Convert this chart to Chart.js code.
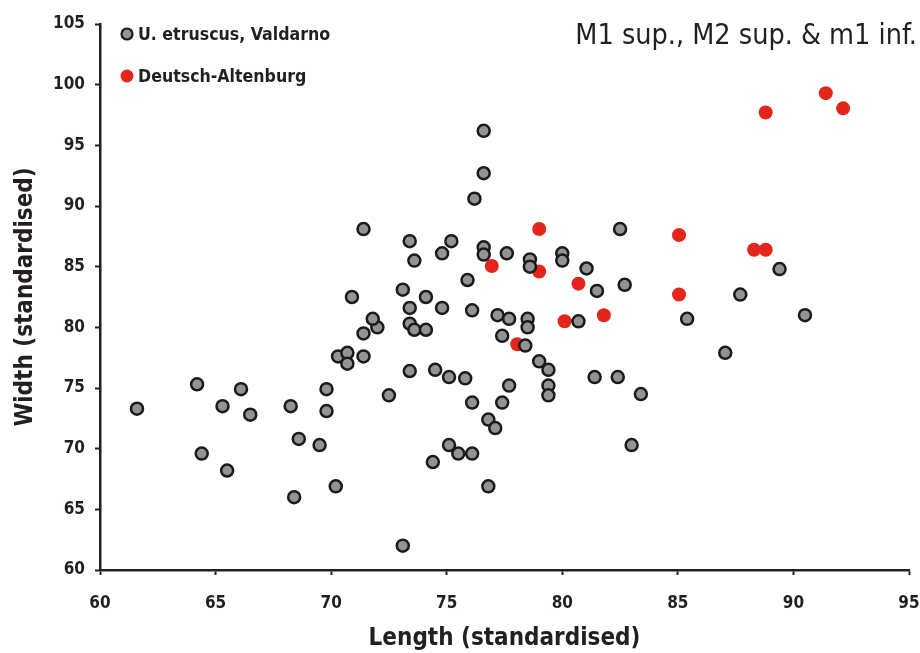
<!DOCTYPE html>
<html>
<head>
<meta charset="utf-8">
<script src="https://cdn.jsdelivr.net/npm/chart.js@4"></script>
<style>
  html, body { margin: 0; padding: 0; background: #fff; }
  #wrap { width: 920px; height: 653px; }
</style>
</head>
<body>
<div id="wrap"><canvas id="grafico" width="920" height="653"></canvas></div>
<script>
// U. etruscus, Valdarno (length, width)
const etruscusX = [61.6, 64.2, 64.4, 65.3, 65.5, 66.1, 66.5, 68.25, 68.6, 68.4, 69.5, 69.8, 69.8, 70.2, 70.3, 70.7, 70.7, 71.4, 71.4, 72.0, 71.8, 72.5, 73.1, 73.4, 74.4, 74.5, 75.1, 75.1, 75.8, 75.5, 76.1, 71.4, 70.9, 73.4, 73.6, 74.8, 75.2, 73.1, 74.1, 73.4, 74.8, 73.4, 73.6, 74.1, 76.6, 76.6, 76.2, 76.6, 76.6, 77.6, 78.6, 78.6, 80.0, 80.0, 81.05, 81.5, 82.5, 82.7, 75.9, 76.1, 77.2, 77.7, 78.5, 78.5, 80.7, 77.4, 78.4, 79.0, 79.4, 79.4, 79.4, 81.4, 82.4, 77.7, 76.1, 77.4, 76.8, 77.1, 76.8, 83.4, 83.0, 87.05, 85.4, 87.7, 89.4, 90.5];
const etruscusY = [73.3, 75.3, 69.6, 73.5, 68.2, 74.9, 72.8, 73.5, 70.8, 66.0, 70.3, 74.9, 73.1, 66.9, 77.6, 77.9, 77.0, 79.5, 77.6, 80.0, 80.7, 74.4, 62.0, 76.4, 68.9, 76.5, 70.3, 75.9, 75.8, 69.6, 69.6, 88.1, 82.5, 87.1, 85.5, 86.1, 87.1, 83.1, 82.5, 81.6, 81.6, 80.3, 79.8, 79.8, 96.2, 92.7, 90.6, 86.6, 86.0, 86.1, 85.6, 85.0, 86.1, 85.5, 84.85, 83.0, 88.1, 83.5, 83.9, 81.4, 81.0, 80.7, 80.7, 80.0, 80.5, 79.3, 78.5, 77.2, 76.5, 75.2, 74.4, 75.9, 75.9, 75.2, 73.8, 73.8, 72.4, 71.7, 66.9, 74.5, 70.3, 77.9, 80.7, 82.7, 84.8, 81.0];

// Deutsch-Altenburg (length, width)
const altenburgX = [76.95, 79.0, 79.0, 80.7, 81.8, 80.1, 78.05, 85.05, 85.05, 88.3, 88.8, 88.8, 91.4, 92.15];
const altenburgY = [85.05, 88.1, 84.6, 83.6, 81.0, 80.5, 78.6, 87.6, 82.7, 86.4, 86.4, 97.7, 99.3, 98.05];

const xTicks = [60, 65, 70, 75, 80, 85, 90, 95];
const yTicks = [60, 65, 70, 75, 80, 85, 90, 95, 100, 105];

const seriesNames = ["U. etruscus, Valdarno", "Deutsch-Altenburg"];
const titulo = "M1 sup., M2 sup. & m1 inf.";

const corEixo = "#231f20";
const corCinza = "#959292";
const corVermelho = "#e3251b";
const fonte = "'DejaVu Sans Condensed', 'DejaVu Sans', sans-serif";

function pares(xs, ys) {
  return xs.map((x, i) => ({ x: x, y: ys[i] }));
}

// ajusta o tamanho da fonte para caber na largura desejada
function fonteParaLargura(ctx, texto, peso, largura) {
  ctx.font = peso + " 20px " + fonte;
  const w = ctx.measureText(texto).width;
  return peso + " " + (20 * largura / w).toFixed(1) + "px " + fonte;
}

// legenda e titulo desenhados a mao
const extras = {
  id: "extras",
  afterDraw(chart) {
    const ctx = chart.ctx;
    ctx.save();
    ctx.textBaseline = "middle";
    ctx.textAlign = "left";
    // legenda
    ctx.beginPath();
    ctx.arc(127, 34, 5.5, 0, Math.PI * 2);
    ctx.fillStyle = corCinza;
    ctx.fill();
    ctx.lineWidth = 2.2;
    ctx.strokeStyle = "#1a1a1a";
    ctx.stroke();
    ctx.fillStyle = corEixo;
    ctx.font = fonteParaLargura(ctx, seriesNames[0], "bold", 192);
    ctx.fillText(seriesNames[0], 138, 35);

    ctx.beginPath();
    ctx.arc(127, 76, 6.5, 0, Math.PI * 2);
    ctx.fillStyle = corVermelho;
    ctx.fill();
    ctx.fillStyle = corEixo;
    ctx.fillText(seriesNames[1], 138, 77);

    // titulo
    ctx.textAlign = "right";
    ctx.font = fonteParaLargura(ctx, titulo, "normal", 342);
    ctx.fillText(titulo, 917, 37);
    ctx.restore();
  }
};

const ctx = document.getElementById("grafico").getContext("2d");
const chart = new Chart(ctx, {
  type: "scatter",
  data: {
    datasets: [
      {
        label: seriesNames[0],
        data: pares(etruscusX, etruscusY),
        backgroundColor: corCinza,
        borderColor: "#1a1a1a",
        borderWidth: 2.5,
        pointRadius: 6
      },
      {
        label: seriesNames[1],
        data: pares(altenburgX, altenburgY),
        backgroundColor: corVermelho,
        borderColor: corVermelho,
        borderWidth: 0,
        pointRadius: 7
      }
    ]
  },
  options: {
    responsive: false,
    animation: false,
    layout: { padding: { top: 24, right: 11, left: 0, bottom: 0 } },
    plugins: {
      legend: { display: false },
      tooltip: { enabled: false }
    },
    scales: {
      x: {
        type: "linear",
        min: 60,
        max: 95,
        afterBuildTicks: s => { s.ticks = xTicks.map(v => ({ value: v })); },
        afterFit: s => { s.height = 83; s.paddingLeft = 0; s.paddingRight = 0; },
        border: { color: corEixo, width: 2.5 },
        grid: { drawOnChartArea: false, drawTicks: true, tickLength: 5, tickColor: corEixo, tickWidth: 2 },
        ticks: { color: corEixo, padding: 18, maxRotation: 0, font: { family: fonte, size: 17, weight: "bold" } },
        title: {
          display: true,
          text: "Length (standardised)",
          color: corEixo,
          padding: { top: 0, bottom: 0 },
          font: { family: fonte, size: 24, weight: "bold" }
        }
      },
      y: {
        type: "linear",
        min: 60,
        max: 105,
        afterBuildTicks: s => { s.ticks = yTicks.map(v => ({ value: v })); },
        afterFit: s => { s.width = 100; },
        border: { color: corEixo, width: 2.5 },
        grid: { drawOnChartArea: false, drawTicks: true, tickLength: 5, tickColor: corEixo, tickWidth: 2 },
        ticks: { color: corEixo, padding: 10, font: { family: fonte, size: 17, weight: "bold" } },
        title: {
          display: true,
          text: "Width (standardised)",
          color: corEixo,
          padding: { top: 11 },
          font: { family: fonte, size: 24, weight: "bold" }
        }
      }
    }
  },
  plugins: [extras]
});
</script>
</body>
</html>
